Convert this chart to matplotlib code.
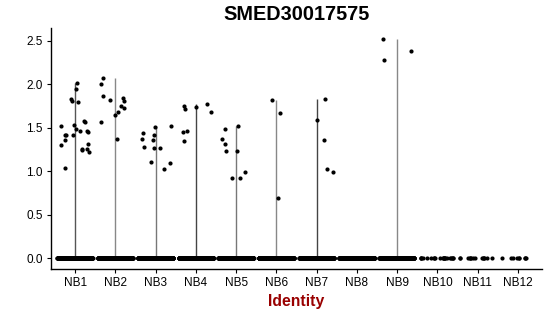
import numpy as np
import matplotlib
matplotlib.use("Agg")
import matplotlib.pyplot as plt

plt.rcParams['font.family'] = ['Liberation Sans', 'DejaVu Sans']

title = "SMED30017575"
categories = ["NB1", "NB2", "NB3", "NB4", "NB5", "NB6", "NB7", "NB8", "NB9", "NB10", "NB11", "NB12"]
# non-zero expression values per identity
nonzero = {
    "NB1": [2.01, 1.94, 1.83, 1.81, 1.79, 1.52, 1.53, 1.58, 1.57, 1.48, 1.46, 1.46, 1.45,
            1.42, 1.42, 1.41, 1.36, 1.30, 1.31, 1.26, 1.24, 1.26, 1.22, 1.04],
    "NB2": [2.07, 2.00, 1.86, 1.82, 1.84, 1.81, 1.75, 1.73, 1.68, 1.65, 1.56, 1.37],
    "NB3": [1.44, 1.37, 1.41, 1.36, 1.51, 1.28, 1.27, 1.27, 1.52, 1.11, 1.03, 1.09],
    "NB4": [1.75, 1.72, 1.74, 1.77, 1.68, 1.45, 1.46, 1.35],
    "NB5": [1.49, 1.37, 1.31, 1.23, 1.52, 1.23, 0.92, 0.92, 0.99],
    "NB6": [1.82, 1.67, 0.69],
    "NB7": [1.835, 1.585, 1.355, 1.03, 0.99],
    "NB8": [],
    "NB9": [2.52, 2.28, 2.38],
    "NB10": [], "NB11": [], "NB12": [],
}
# horizontal offsets of the non-zero points (jitter, in category units)
offsets = {
    "NB1": [0.04, 0.02, -0.10, -0.07, 0.06, -0.35, -0.03, 0.22, 0.25, 0.01, 0.12, 0.30, 0.31,
            -0.23, -0.25, -0.06, -0.26, -0.34, 0.32, 0.18, 0.17, 0.29, 0.35, -0.25],
    "NB2": [-0.30, -0.36, -0.32, -0.14, 0.19, 0.21, 0.15, 0.21, 0.06, -0.02, -0.35, 0.05],
    "NB3": [-0.31, -0.34, -0.05, -0.07, -0.02, -0.30, -0.04, 0.10, 0.39, -0.12, 0.20, 0.36],
    "NB4": [-0.30, -0.27, 0.01, 0.28, 0.37, -0.33, -0.22, -0.30],
    "NB5": [-0.28, -0.36, -0.28, -0.26, 0.04, 0.02, -0.11, 0.10, 0.21],
    "NB6": [-0.10, 0.08, 0.04],
    "NB7": [0.22, 0.02, 0.19, 0.27, 0.40],
    "NB8": [],
    "NB9": [-0.34, -0.33, 0.35],
    "NB10": [], "NB11": [], "NB12": [],
}
zero_counts = [300, 300, 300, 300, 300, 250, 250, 220, 220, 22, 14, 9]
violin_colors = ["#555555", "#888888", "#777777", "#444444", "#777777", "#888888",
                 "#444444", "#888888", "#888888", "#888888", "#888888", "#888888"]

fig = plt.figure(figsize=(5.5, 3.16), dpi=100)
ax = fig.add_axes([0.0927, 0.1487, 0.8928, 0.7627])

rng = np.random.default_rng(3)
xs = np.arange(1, len(categories) + 1)
for i, cat in enumerate(categories):
    x0 = xs[i]
    vals = nonzero[cat]
    if len(vals) > 0:
        ax.vlines(x0, 0, max(vals), color=violin_colors[i], lw=1.0, zorder=1)
    n0 = zero_counts[i]
    jx = x0 + rng.uniform(-0.44, 0.44, n0)
    ax.scatter(jx, np.zeros(n0), s=9, color="black", linewidths=0, zorder=2)
    if len(vals) > 0:
        ax.scatter(x0 + np.array(offsets[cat]), vals, s=9, color="black", linewidths=0, zorder=2)

ax.set_xlim(0.4, 12.6)
ax.set_ylim(-0.126, 2.646)
ax.set_xticks(xs)
ax.set_xticklabels(categories)
ax.set_yticks([0.0, 0.5, 1.0, 1.5, 2.0, 2.5])
ax.set_yticklabels(["0.0", "0.5", "1.0", "1.5", "2.0", "2.5"])
for s in ["top", "right"]:
    ax.spines[s].set_visible(False)
for s in ["left", "bottom"]:
    ax.spines[s].set_linewidth(1.0)
ax.tick_params(axis="both", length=3, width=0.8, labelsize=8.5, colors="black", pad=3)
ax.set_title(title, fontsize=14.3, fontweight="bold", pad=6)
ax.set_xlabel("Identity", fontsize=11.3, fontweight="bold", color="#990000", labelpad=3)

fig.savefig("out.png", dpi=100)
